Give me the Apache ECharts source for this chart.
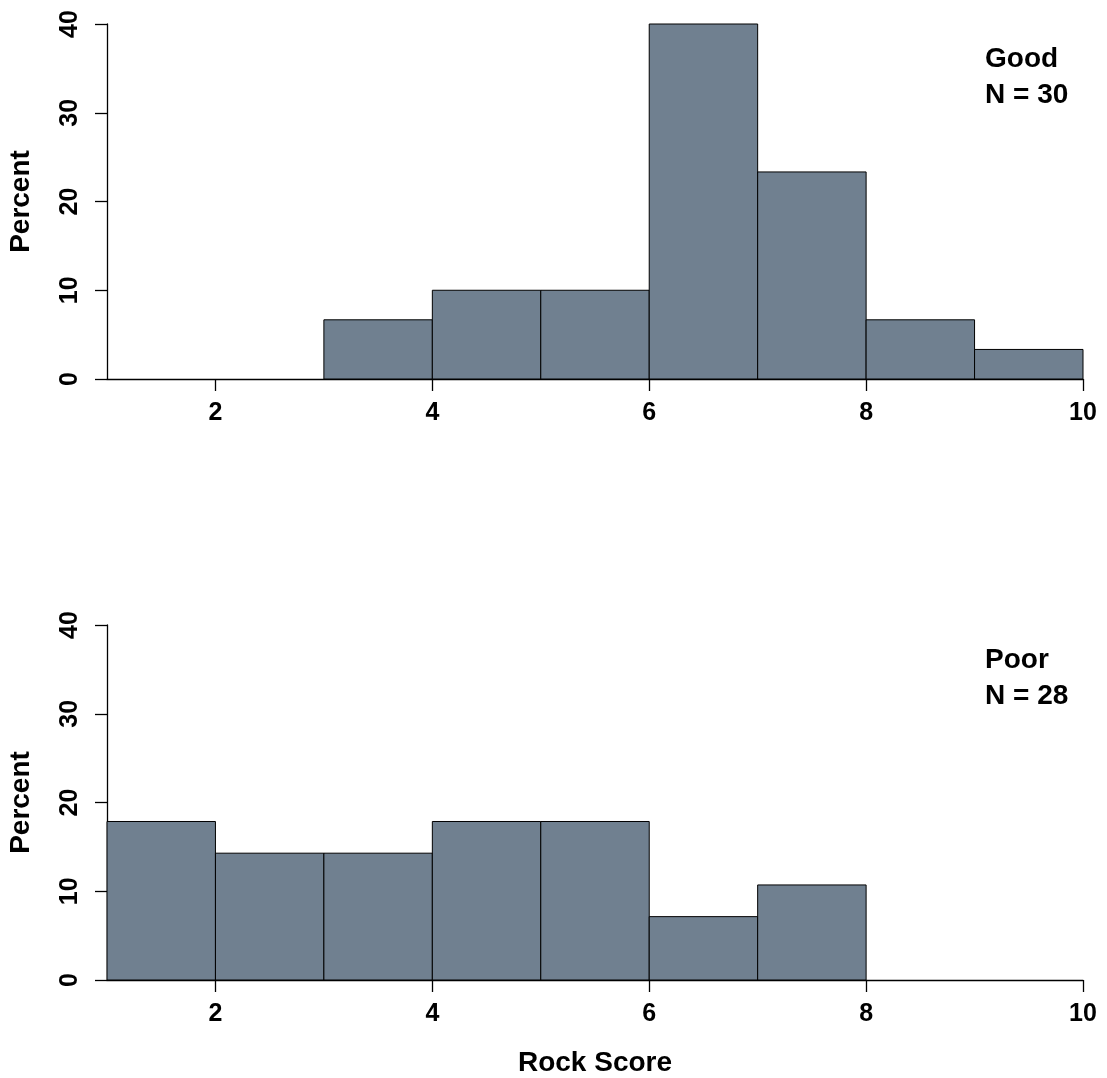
<!DOCTYPE html>
<html>
<head>
<meta charset="utf-8">
<script src="https://cdn.jsdelivr.net/npm/echarts@6/dist/echarts.min.js"></script>
<style>
html,body{margin:0;padding:0;background:#fff;}
#chart{width:1107px;height:1078px;}
</style>
</head>
<body>
<div id="chart"></div>
<script>
// Bin edges (Rock Score), one bin per unit
const binStarts = [1, 2, 3, 4, 5, 6, 7, 8, 9];
const binEnds   = [2, 3, 4, 5, 6, 7, 8, 9, 10];
// Percent of observations in each bin
const goodPercent = [0, 0, 6.67, 10, 10, 40, 23.33, 6.67, 3.33];
const poorPercent = [17.86, 14.29, 14.29, 17.86, 17.86, 7.14, 10.71, 0, 0];
const xTickValues = [2, 4, 6, 8, 10];
const yTickValues = [0, 10, 20, 30, 40];
const groupLabels = ['Good\nN = 30', 'Poor\nN = 28'];

const FONT = 'Liberation Sans, Arial, sans-serif';
const FILL = '#708090';

function binData(values) {
  return values.map((v, i) => [binStarts[i], binEnds[i], v]);
}

function renderBar(params, api) {
  const v = api.value(2);
  if (!v) return null;
  const p0 = api.coord([api.value(0), v]);
  const p1 = api.coord([api.value(1), 0]);
  return {
    type: 'rect',
    shape: { x: p0[0], y: p0[1], width: p1[0] - p0[0], height: p1[1] - p0[1] },
    style: { fill: FILL, stroke: '#000', lineWidth: 1 }
  };
}

function xAxisCfg(gridIndex, withName) {
  const cfg = {
    type: 'value', gridIndex, min: 1, max: 10,
    axisLine: { show: true, lineStyle: { color: '#000', width: 1.3 } },
    axisTick: { show: true, customValues: xTickValues, length: 12, lineStyle: { color: '#000', width: 1.3 } },
    axisLabel: { customValues: xTickValues, color: '#000', fontFamily: FONT, fontWeight: 'bold', fontSize: 25, margin: 22 },
    splitLine: { show: false }
  };
  if (withName) {
    cfg.name = 'Rock Score';
    cfg.nameLocation = 'middle';
    cfg.nameGap = 69;
    cfg.nameTextStyle = { color: '#000', fontFamily: FONT, fontWeight: 'bold', fontSize: 28 };
  }
  return cfg;
}

function yAxisCfg(gridIndex) {
  return {
    type: 'value', gridIndex, min: 0, max: 40,
    axisLine: { show: true, lineStyle: { color: '#000', width: 1.3 } },
    axisTick: { show: true, customValues: yTickValues, length: 12, lineStyle: { color: '#000', width: 1.3 } },
    axisLabel: { customValues: yTickValues, rotate: 90, color: '#000', fontFamily: FONT, fontWeight: 'bold', fontSize: 25, margin: 24 },
    splitLine: { show: false },
    name: 'Percent', nameLocation: 'middle', nameRotate: 90, nameGap: 72,
    nameTextStyle: { color: '#000', fontFamily: FONT, fontWeight: 'bold', fontSize: 28 }
  };
}

const titleStyle = { color: '#000', fontFamily: FONT, fontWeight: 'bold', fontSize: 28, lineHeight: 36 };

const chart = echarts.init(document.getElementById('chart'), null, { renderer: 'canvas' });
chart.setOption({
  backgroundColor: '#fff',
  animation: false,
  grid: [
    { left: 107, right: 24, top: 24, height: 355, containLabel: false, outerBoundsMode: 'none' },
    { left: 107, right: 24, top: 625, height: 355, containLabel: false, outerBoundsMode: 'none' }
  ],
  title: [
    { text: groupLabels[0], left: 985, top: 41, padding: 0, textStyle: titleStyle },
    { text: groupLabels[1], left: 985, top: 642, padding: 0, textStyle: titleStyle }
  ],
  xAxis: [xAxisCfg(0, false), xAxisCfg(1, true)],
  yAxis: [yAxisCfg(0), yAxisCfg(1)],
  series: [
    { type: 'custom', xAxisIndex: 0, yAxisIndex: 0, renderItem: renderBar, encode: { x: [0, 1], y: 2 }, data: binData(goodPercent) },
    { type: 'custom', xAxisIndex: 1, yAxisIndex: 1, renderItem: renderBar, encode: { x: [0, 1], y: 2 }, data: binData(poorPercent) }
  ]
});
</script>
</body>
</html>
